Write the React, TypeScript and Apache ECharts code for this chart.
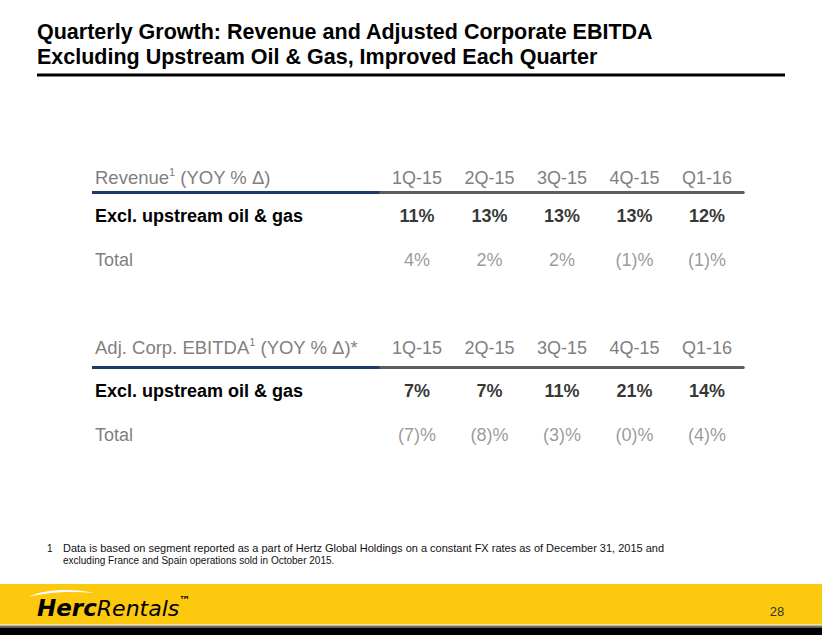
import React, { useEffect, useRef } from 'react';
import * as echarts from 'echarts';

// ---- data ----
const quarters = ['1Q-15', '2Q-15', '3Q-15', '4Q-15', 'Q1-16'];
const rowLabels = ['Excl. upstream oil & gas', 'Total'];
const revenueExcl = [11, 13, 13, 13, 12];
const revenueTotal = [4, 2, 2, -1, -1];
const ebitdaExcl = [7, 7, 11, 21, 14];
const ebitdaTotal = [-7, -8, -3, -0, -4];

const titleLines = [
  'Quarterly Growth: Revenue and Adjusted Corporate EBITDA',
  'Excluding Upstream Oil & Gas, Improved Each Quarter',
];
const revenueHeader = ['Revenue', '1', ' (YOY % Δ)'];
const ebitdaHeader = ['Adj. Corp. EBITDA', '1', ' (YOY % Δ)*'];
const footnoteMark = '1';
const footnoteLines = [
  'Data is based on segment reported as a part of Hertz Global Holdings on a constant FX rates as of December 31, 2015 and',
  'excluding France and Spain operations sold in October 2015.',
];
const logoParts = ['Herc', 'Rentals', '™'];
const pageNumber = '28';

const FONT = '"Liberation Sans", Arial, sans-serif';
const LOGO_FONT = '"DejaVu Sans", sans-serif';
const GRAY = '#7f7f7f';
const BLUE = '#1c3a6b';
const LINE_GRAY = '#5e5e5e';

const fmt = (v: number) => (v < 0 || Object.is(v, -0) ? `(${Math.abs(v)})%` : `${v}%`);

let registered = false;
function ensureShapes() {
  if (registered) return;
  registered = true;
  echarts.graphic.registerShape(
    'swoosh',
    echarts.graphic.extendPath('M0 8 C15 0 45 -1 66 4 C45 2 20 3 0 8 Z', {}) as any
  );
}

const GRID_LEFT = 380.75;
const GRID_WIDTH = 362.5;

function tableSeries(gridIdx: number, excl: number[], total: number[]) {
  const mk = (rowIdx: number, vals: number[], bold: boolean) => ({
    type: 'scatter',
    xAxisIndex: gridIdx,
    yAxisIndex: gridIdx,
    symbol: 'circle',
    symbolSize: 1,
    itemStyle: { color: 'rgba(0,0,0,0)' },
    silent: true,
    data: quarters.map((q, i) => [i, rowIdx, vals[i]]),
    label: {
      show: true,
      position: 'inside',
      formatter: (p: any) => fmt(p.value[2]),
      fontFamily: FONT,
      fontSize: 18,
      fontWeight: bold ? 'bold' : 'normal',
      color: bold ? '#000' : GRAY,
    },
  });
  return [mk(0, excl, true), mk(1, total, false)];
}

function headerText(parts: string[], y: number) {
  return {
    type: 'text',
    x: 95,
    y,
    style: {
      text: `{a|${parts[0]}}{s|${parts[1]}}{a|${parts[2]}}`,
      verticalAlign: 'middle',
      rich: {
        a: { fontFamily: FONT, fontSize: 18.5, fill: GRAY, lineHeight: 22 },
        s: { fontFamily: FONT, fontSize: 11, fill: GRAY, lineHeight: 14, verticalAlign: 'top' },
      },
    },
  };
}

export default function App() {
  const ref = useRef<HTMLDivElement>(null);
  useEffect(() => {
    document.body.style.margin = '0';
    ensureShapes();
    const chart = echarts.init(ref.current!, null, { renderer: 'svg' });

    const xAxisCommon = (gridIndex: number, offset: number, margin: number) => ({
      gridIndex,
      type: 'category',
      data: quarters,
      position: 'top',
      offset,
      axisLine: { show: true, lineStyle: { color: LINE_GRAY, width: 3 } },
      axisTick: { show: false },
      splitLine: { show: false },
      axisLabel: { color: GRAY, fontFamily: FONT, fontSize: 18, margin },
    });
    const yAxisCommon = (gridIndex: number) => ({
      gridIndex,
      type: 'category',
      data: rowLabels,
      inverse: true,
      axisLine: { show: false },
      axisTick: { show: false },
      splitLine: { show: false },
      axisLabel: {
        margin: GRID_LEFT - 95,
        align: 'left',
        formatter: (v: string, i: number) => (i === 0 ? `{b|${v}}` : `{n|${v}}`),
        rich: {
          b: { fontFamily: FONT, fontSize: 18, fontWeight: 'bold', color: '#000' },
          n: { fontFamily: FONT, fontSize: 18, color: GRAY },
        },
      },
    });

    chart.setOption({
      animation: false,
      backgroundColor: '#fff',
      grid: [
        { left: GRID_LEFT, width: GRID_WIDTH, top: 194, height: 88 },
        { left: GRID_LEFT, width: GRID_WIDTH, top: 368.5, height: 88 },
      ],
      xAxis: [xAxisCommon(0, 1.5, 6), xAxisCommon(1, 1, 11)],
      yAxis: [yAxisCommon(0), yAxisCommon(1)],
      series: [
        ...tableSeries(0, revenueExcl, revenueTotal),
        ...tableSeries(1, ebitdaExcl, ebitdaTotal),
      ],
      graphic: [
        // title
        ...titleLines.map((t, i) => ({
          type: 'text',
          x: 37,
          y: 32 + i * 25,
          style: { text: t, fontFamily: FONT, fontSize: 21.5, fontWeight: 'bold', fill: '#000', verticalAlign: 'middle' },
        })),
        { type: 'rect', shape: { x: 37, y: 73.5, width: 748, height: 3 }, style: { fill: '#000' } },
        // table headers
        headerText(revenueHeader, 177.5),
        { type: 'rect', shape: { x: 92, y: 191, width: GRID_LEFT - 92, height: 3 }, style: { fill: BLUE } },
        headerText(ebitdaHeader, 347),
        { type: 'rect', shape: { x: 92, y: 366, width: GRID_LEFT - 92, height: 3 }, style: { fill: BLUE } },
        // footnote
        {
          type: 'text', x: 47, y: 548,
          style: { text: footnoteMark, fontFamily: FONT, fontSize: 10, fill: '#111', verticalAlign: 'middle' },
        },
        ...footnoteLines.map((t, i) => ({
          type: 'text', x: 63, y: 548 + i * 12.5, scaleX: i === 0 ? 1.1 : 1,
          style: { text: t, fontFamily: FONT, fontSize: 10, fill: '#111', verticalAlign: 'middle' },
        })),
        // footer bands
        { type: 'rect', shape: { x: 0, y: 584, width: 822, height: 40.5 }, style: { fill: '#fcc90e' } },
        { type: 'rect', shape: { x: 0, y: 625.5, width: 822, height: 2 }, style: { fill: '#6e6e6e' } },
        { type: 'rect', shape: { x: 0, y: 627.5, width: 822, height: 7.5 }, style: { fill: '#000' } },
        // logo
        { type: 'swoosh', x: 28, y: 589, style: { fill: '#fff' } },
        {
          type: 'text', x: 37, y: 608,
          style: {
            text: `{h|${logoParts[0]}}{r|${logoParts[1]}}{t|${logoParts[2]}}`,
            verticalAlign: 'middle',
            rich: {
              h: { fontFamily: LOGO_FONT, fontSize: 23, fontWeight: 'bold', fontStyle: 'italic', fill: '#000', lineHeight: 26 },
              r: { fontFamily: LOGO_FONT, fontSize: 22, fontStyle: 'italic', fill: '#000', lineHeight: 26 },
              t: { fontFamily: LOGO_FONT, fontSize: 11, fontWeight: 'bold', fill: '#000', lineHeight: 14, verticalAlign: 'top' },
            },
          },
        },
        {
          type: 'text', x: 777, y: 611,
          style: { text: pageNumber, fontFamily: FONT, fontSize: 13, fill: '#333', align: 'center', verticalAlign: 'middle' },
        },
      ],
    });
    return () => chart.dispose();
  }, []);
  return <div ref={ref} style={{ width: 822, height: 635 }} />;
}
